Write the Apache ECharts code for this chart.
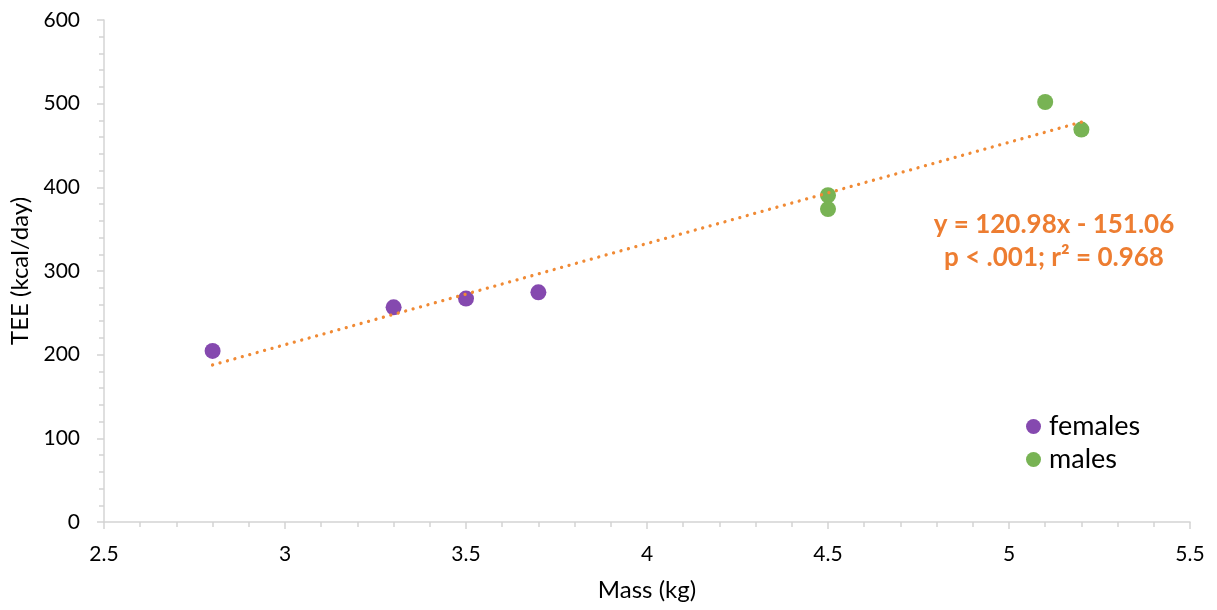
<!DOCTYPE html>
<html><head><meta charset="utf-8">
<script src="https://cdn.jsdelivr.net/npm/echarts@6/dist/echarts.min.js"></script>
<style>html,body{margin:0;padding:0;background:#fff}#c{width:1217px;height:610px}</style>
</head><body><div id="c"></div>
<script>
const femalesMass = [2.8, 3.3, 3.5, 3.7];
const femalesTEE = [204.5, 256.6, 267, 274.5];
const malesMass = [4.5, 4.5, 5.1, 5.2];
const malesTEE = [390.5, 374, 502, 469];
const trendMass = [2.8, 5.2];
const trendTEE = [187.7, 478.0];
const equationLines = ['y = 120.98x - 151.06', 'p < .001; r\u00b2 = 0.968'];
const FONT = 'Lato';

const pair = (xs, ys) => xs.map((x, i) => [x, ys[i]]);
const chart = echarts.init(document.getElementById('c'));
const axisCol = '#D4D4D4';
chart.setOption({
  animation: false,
  textStyle: {fontFamily: FONT},
  grid: {left: 104, right: 27, top: 20, bottom: 88, containLabel: false},
  xAxis: {
    type: 'value', min: 2.5, max: 5.5, interval: 0.5,
    name: 'Mass (kg)', nameLocation: 'middle', nameGap: 56,
    nameTextStyle: {fontSize: 24, color: '#000', fontFamily: FONT},
    axisLine: {show: true, lineStyle: {color: axisCol, width: 1.5}},
    axisTick: {show: true, length: 7, lineStyle: {color: axisCol, width: 1.5}},
    minorTick: {show: true, splitNumber: 5, length: 5, lineStyle: {color: axisCol, width: 1.5}},
    splitLine: {show: false},
    axisLabel: {fontSize: 21, color: '#000', margin: 22, fontFamily: FONT}
  },
  yAxis: {
    type: 'value', min: 0, max: 600, interval: 100,
    name: 'TEE (kcal/day)', nameLocation: 'middle', nameGap: 70,
    nameTextStyle: {fontSize: 24, color: '#000', fontFamily: FONT},
    axisLine: {show: true, lineStyle: {color: axisCol, width: 1.5}},
    axisTick: {show: true, length: 7, lineStyle: {color: axisCol, width: 1.5}},
    minorTick: {show: true, splitNumber: 5, length: 5, lineStyle: {color: axisCol, width: 1.5}},
    splitLine: {show: false},
    axisLabel: {fontSize: 21, color: '#000', margin: 24, fontFamily: FONT}
  },
  legend: {
    orient: 'vertical', left: 1021, top: 408, itemWidth: 15, itemHeight: 15, itemGap: 6,
    icon: 'circle', data: ['females', 'males'],
    textStyle: {fontSize: 27, color: '#000', fontFamily: FONT, padding: [0, 0, 0, 3]}
  },
  graphic: [{
    type: 'text', x: 1054, y: 208,
    style: {text: equationLines.join('\n'), fill: '#ED7D31', font: 'bold 26px ' + FONT,
      textAlign: 'center', lineHeight: 33}
  }],
  series: [
    {name: 'trend', type: 'line', data: pair(trendMass, trendTEE), symbol: 'none', z: 3,
      lineStyle: {color: '#F08A35', width: 3.3, type: [0.01, 7.7], cap: 'round'}, silent: true},
    {name: 'females', type: 'scatter', data: pair(femalesMass, femalesTEE), symbolSize: 16, z: 2,
      itemStyle: {color: '#8549AF', opacity: 1}},
    {name: 'males', type: 'scatter', data: pair(malesMass, malesTEE), symbolSize: 16, z: 2,
      itemStyle: {color: '#78B354', opacity: 1}}
  ]
});
</script></body></html>
